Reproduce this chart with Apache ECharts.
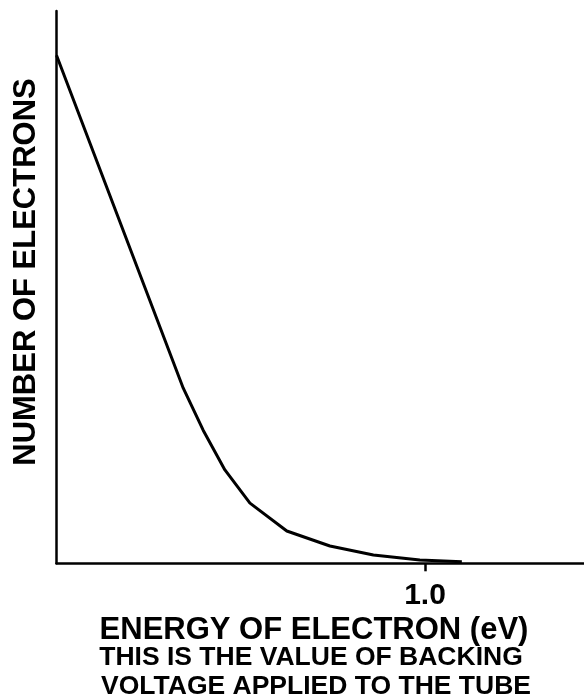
<!DOCTYPE html>
<html>
<head>
<meta charset="utf-8">
<script src="https://cdn.jsdelivr.net/npm/echarts@6/dist/echarts.min.js"></script>
<style>
html,body{margin:0;padding:0;background:#fff;}
#chart{width:584px;height:700px;}
</style>
</head>
<body>
<div id="chart"></div>
<script>
// Data (x: energy in eV, y: relative number of electrons)
var energy = [0, 0.344, 0.398, 0.457, 0.525, 0.625, 0.742, 0.860, 0.986, 1.10];
var electrons = [92.0, 31.7, 24.1, 16.9, 10.9, 5.85, 3.13, 1.5, 0.6, 0.29];
var tickValues = [1.0];
var tickLabels = ['1.0'];
var xTitle = 'ENERGY OF ELECTRON (eV)';
var noteLines = ['THIS IS THE VALUE OF BACKING', 'VOLTAGE APPLIED TO THE TUBE'];
var yTitle = 'NUMBER OF ELECTRONS';

var FONT = '"Liberation Sans", Arial, Helvetica, sans-serif';
var points = energy.map(function (e, i) { return [e, electrons[i]]; });

var chart = echarts.init(document.getElementById('chart'), null, {renderer: 'canvas'});
chart.setOption({
  animation: false,
  backgroundColor: '#fff',
  grid: {left: 56.5, right: 0, top: 11, bottom: 136.7, containLabel: false},
  xAxis: {
    type: 'value',
    min: 0,
    max: 1.4315,
    axisLine: {show: true, lineStyle: {color: '#000', width: 2.5}},
    splitLine: {show: false},
    axisTick: {show: true, customValues: tickValues, length: 8, lineStyle: {color: '#000', width: 2.5}},
    axisLabel: {
      show: true,
      customValues: tickValues,
      formatter: function (v) {
        var i = tickValues.indexOf(v);
        return i >= 0 ? tickLabels[i] : '';
      },
      color: '#000',
      fontFamily: FONT,
      fontWeight: 'bold',
      fontSize: 30,
      lineHeight: 30,
      margin: 17
    }
  },
  yAxis: {
    type: 'value',
    min: 0,
    max: 100,
    axisLine: {show: true, lineStyle: {color: '#000', width: 2.5}},
    splitLine: {show: false},
    axisTick: {show: false},
    axisLabel: {show: false}
  },
  graphic: [
    {type: 'text', x: 314, y: 630, style: {text: xTitle, fill: '#000', font: 'bold 31px ' + FONT, align: 'center', verticalAlign: 'middle'}},
    {type: 'text', x: 311, y: 657.5, style: {text: noteLines[0], fill: '#000', font: 'bold 26.5px ' + FONT, align: 'center', verticalAlign: 'middle'}},
    {type: 'text', x: 316, y: 687, style: {text: noteLines[1], fill: '#000', font: 'bold 26.5px ' + FONT, align: 'center', verticalAlign: 'middle'}},
    {type: 'text', x: 26, y: 272, rotation: Math.PI / 2, style: {text: yTitle, fill: '#000', font: 'bold 31px ' + FONT, align: 'center', verticalAlign: 'middle'}}
  ],
  series: [{
    type: 'line',
    data: points,
    symbol: 'none',
    smooth: false,
    lineStyle: {color: '#000', width: 3},
    z: 3
  }]
});
</script>
</body>
</html>
